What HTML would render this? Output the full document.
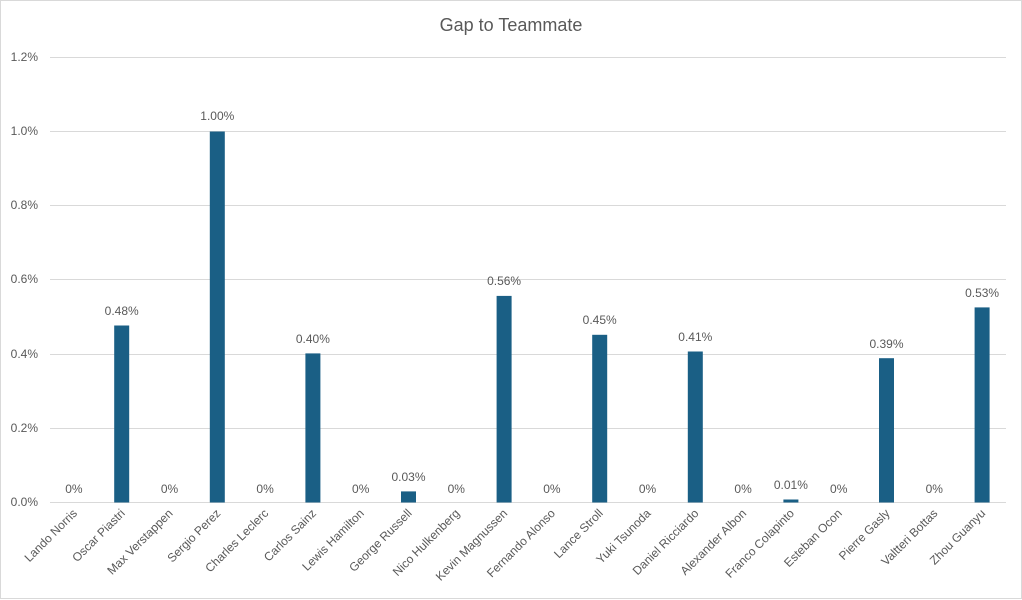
<!DOCTYPE html>
<html><head><meta charset="utf-8"><style>body{margin:0;background:#fff}svg{display:block}text{font-family:"Liberation Sans",sans-serif;fill:#595959}</style></head><body>
<svg width="1022" height="600" xmlns="http://www.w3.org/2000/svg">
<rect x="0.5" y="0.5" width="1021" height="598" fill="#fff" stroke="#d9d9d9"/>
<text x="511" y="31" font-size="18" text-anchor="middle">Gap to Teammate</text>
<g stroke="#d9d9d9" stroke-width="1">
<line x1="50" x2="1006" y1="57.5" y2="57.5"/><line x1="50" x2="1006" y1="131.5" y2="131.5"/><line x1="50" x2="1006" y1="205.5" y2="205.5"/><line x1="50" x2="1006" y1="279.5" y2="279.5"/><line x1="50" x2="1006" y1="354.5" y2="354.5"/><line x1="50" x2="1006" y1="428.5" y2="428.5"/><line x1="50" x2="1006" y1="502.5" y2="502.5"/>
</g>
<g font-size="12" text-anchor="end">
<text x="38" y="61">1.2%</text><text x="38" y="135">1.0%</text><text x="38" y="209">0.8%</text><text x="38" y="283">0.6%</text><text x="38" y="358">0.4%</text><text x="38" y="432">0.2%</text><text x="38" y="506">0.0%</text>
</g>
<g fill="#1a5f85">
<rect x="114.2" y="325.5" width="15" height="177"/>
<rect x="209.8" y="131.5" width="15" height="371"/>
<rect x="305.4" y="353.4" width="15" height="149.1"/>
<rect x="401" y="491.4" width="15" height="11.1"/>
<rect x="496.6" y="295.9" width="15" height="206.6"/>
<rect x="592.2" y="334.8" width="15" height="167.7"/>
<rect x="687.8" y="351.5" width="15" height="151"/>
<rect x="783.4" y="499.5" width="15" height="3"/>
<rect x="879" y="358.2" width="15" height="144.3"/>
<rect x="974.6" y="307.4" width="15" height="195.1"/>
</g>
<g font-size="12" text-anchor="middle" style="fill:#404040">
<text x="73.9" y="493" fill="#404040">0%</text>
<text x="121.7" y="315" fill="#404040">0.48%</text>
<text x="169.5" y="493" fill="#404040">0%</text>
<text x="217.3" y="120" fill="#404040">1.00%</text>
<text x="265.1" y="493" fill="#404040">0%</text>
<text x="312.9" y="343" fill="#404040">0.40%</text>
<text x="360.7" y="493" fill="#404040">0%</text>
<text x="408.5" y="481" fill="#404040">0.03%</text>
<text x="456.3" y="493" fill="#404040">0%</text>
<text x="504.1" y="285" fill="#404040">0.56%</text>
<text x="551.9" y="493" fill="#404040">0%</text>
<text x="599.7" y="324" fill="#404040">0.45%</text>
<text x="647.5" y="493" fill="#404040">0%</text>
<text x="695.3" y="341" fill="#404040">0.41%</text>
<text x="743.1" y="493" fill="#404040">0%</text>
<text x="790.9" y="489" fill="#404040">0.01%</text>
<text x="838.7" y="493" fill="#404040">0%</text>
<text x="886.5" y="348" fill="#404040">0.39%</text>
<text x="934.3" y="493" fill="#404040">0%</text>
<text x="982.1" y="297" fill="#404040">0.53%</text>
</g>
<g font-size="12" text-anchor="end">
<text transform="translate(77.9,514) rotate(-45)">Lando Norris</text>
<text transform="translate(125.7,514) rotate(-45)">Oscar Piastri</text>
<text transform="translate(173.5,514) rotate(-45)">Max Verstappen</text>
<text transform="translate(221.3,514) rotate(-45)">Sergio Perez</text>
<text transform="translate(269.1,514) rotate(-45)">Charles Leclerc</text>
<text transform="translate(316.9,514) rotate(-45)">Carlos Sainz</text>
<text transform="translate(364.7,514) rotate(-45)">Lewis Hamilton</text>
<text transform="translate(412.5,514) rotate(-45)">George Russell</text>
<text transform="translate(460.3,514) rotate(-45)">Nico Hulkenberg</text>
<text transform="translate(508.1,514) rotate(-45)">Kevin Magnussen</text>
<text transform="translate(555.9,514) rotate(-45)">Fernando Alonso</text>
<text transform="translate(603.7,514) rotate(-45)">Lance Stroll</text>
<text transform="translate(651.5,514) rotate(-45)">Yuki Tsunoda</text>
<text transform="translate(699.3,514) rotate(-45)">Daniel Ricciardo</text>
<text transform="translate(747.1,514) rotate(-45)">Alexander Albon</text>
<text transform="translate(794.9,514) rotate(-45)">Franco Colapinto</text>
<text transform="translate(842.7,514) rotate(-45)">Esteban Ocon</text>
<text transform="translate(890.5,514) rotate(-45)">Pierre Gasly</text>
<text transform="translate(938.3,514) rotate(-45)">Valtteri Bottas</text>
<text transform="translate(986.1,514) rotate(-45)">Zhou Guanyu</text>
</g>
</svg></body></html>
